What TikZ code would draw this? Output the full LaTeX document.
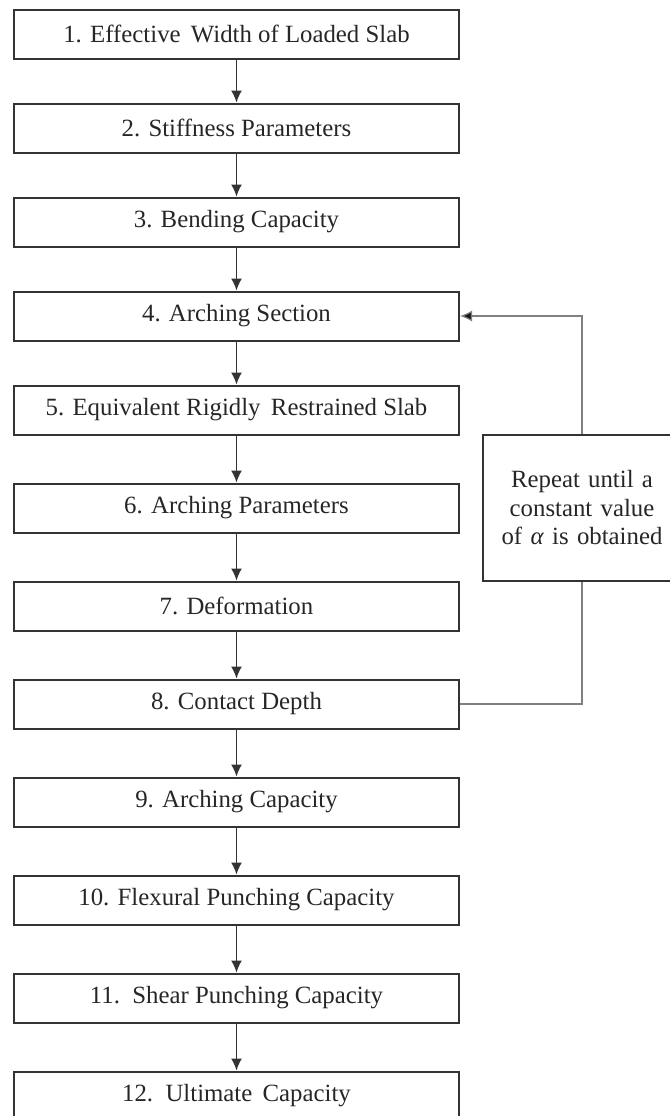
\documentclass[tikz,border=0pt]{standalone}
\usepackage{fontspec}
\setmainfont{Liberation Serif}
\usepackage{xcolor}
\usepackage{tikz}
\usetikzlibrary{shapes.geometric, arrows.meta}
\tikzstyle{process} = [rectangle, minimum width=222.5pt, minimum height=24.5pt, inner sep=0pt, text centered, draw=black!80, line width=1pt, text=black!85]
\tikzstyle{note} = [rectangle, minimum width=99pt, minimum height=73pt, text width=92pt, align=center, draw=black!80, line width=1pt, text=black!85]
\tikzstyle{arrow} = [line width=0.7pt, draw=black!80, -{Latex[length=6pt,width=5.5pt]}]
\tikzstyle{feedback} = [line width=0.6pt, draw=black!50, -{Latex[length=6pt,width=5.5pt,fill=black!90]}]

\begin{document}
\begin{tikzpicture}[font=\fontsize{12.4}{14.25}\selectfont, node distance=49pt]
	\useasboundingbox (0,0) rectangle (335pt,-558pt);
	\node (eff) [process] at (118.25pt,-17pt) {1. Effective \,Width of Loaded Slab};
	\node (stiff) [process, below of=eff, yshift=2pt] {2. Stiffness Parameters};
	\node (bend) [process, below of=stiff, yshift=2pt] {3. Bending Capacity};
	\node (section) [process, below of=bend, yshift=2pt] {4. Arching Section};
	\node (equiv) [process, below of=section, yshift=2pt] {5. Equivalent Rigidly \,Restrained Slab};
	\node (archpar) [process, below of=equiv] {6. Arching Parameters};
	\node (deform) [process, below of=archpar] {7. Deformation};
	\node (depth) [process, below of=deform] {8. Contact Depth};
	\node (archcap) [process, below of=depth] {9. Arching Capacity};
	\node (flex) [process, below of=archcap] {10. Flexural Punching Capacity};
	\node (shear) [process, below of=flex] {11. \,Shear Punching Capacity};
	\node (ult) [process, below of=shear] {12. \,Ultimate \,Capacity};
	\node (note) [note, right of=archpar, xshift=123.75pt] {Repeat until a\\ constant value\\ of \textit{α} is obtained};

	\draw [arrow] (eff) -- (stiff);
	\draw [arrow] (stiff) -- (bend);
	\draw [arrow] (bend) -- (section);
	\draw [arrow] (section) -- (equiv);
	\draw [arrow] (equiv) -- (archpar);
	\draw [arrow] (archpar) -- (deform);
	\draw [arrow] (deform) -- (depth);
	\draw [arrow] (depth) -- (archcap);
	\draw [arrow] (archcap) -- (flex);
	\draw [arrow] (flex) -- (shear);
	\draw [arrow] (shear) -- (ult);
	\draw [feedback, -] (depth.east) -| (note.south);
	\draw [feedback] (note.north) |- (section.east);
\end{tikzpicture}
\end{document}
